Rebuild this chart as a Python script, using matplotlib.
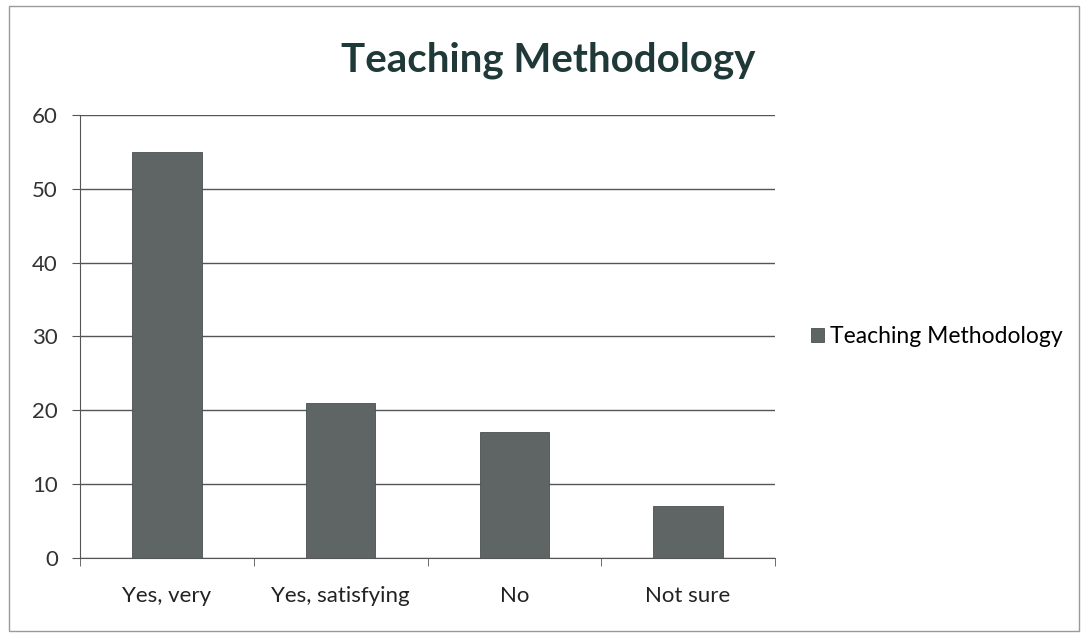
import matplotlib
matplotlib.use("Agg")
import matplotlib.pyplot as plt
from matplotlib.patches import Rectangle

categories = ["Yes, very", "Yes, satisfying", "No", "Not sure"]
values = [55, 21, 17, 7]
series_name = "Teaching Methodology"
yticks = [0, 10, 20, 30, 40, 50, 60]

plt.rcParams['font.family'] = ['Lato', 'DejaVu Sans']

fig = plt.figure(figsize=(10.83, 6.35), dpi=100)
fig.patches.append(Rectangle((0.008, 0.006), 0.988, 0.985, transform=fig.transFigure,
                             fill=False, edgecolor='#9a9a9a', linewidth=1.0))
ax = fig.add_axes([0.0739, 0.1213, 0.6417, 0.6976])

x = list(range(len(categories)))
ax.bar(x, values, width=0.4, color='#5f6464', edgecolor='#4a4f4f', linewidth=0.6,
       label=series_name, zorder=3)
ax.set_xlim(-0.5, len(categories) - 0.5)
ax.set_ylim(0, 60)
ax.set_yticks(yticks)
ax.set_yticklabels([str(v) for v in yticks], fontsize=16, color='#333333')
ax.yaxis.grid(True, color='#555555', linewidth=1.0, zorder=0)
ax.set_axisbelow(True)

ax.set_xticks(x)
ax.set_xticklabels(categories, fontsize=16, color='#222222')
ax.tick_params(axis='x', length=0, pad=20)
ax.set_xticks([i + 0.5 for i in range(-1, len(categories))], minor=True)
ax.tick_params(axis='x', which='minor', length=6, color='#555555', direction='out')
ax.tick_params(axis='y', length=6, color='#555555', pad=10)

for s in ['top', 'right']:
    ax.spines[s].set_visible(False)
ax.spines['left'].set_color('#555555')
ax.spines['bottom'].set_color('#555555')

fig.text(0.506, 0.905, "Teaching Methodology", fontsize=29, fontweight='bold',
         color='#1f3838', ha='center', va='center')

ax.legend(loc='center left', bbox_to_anchor=(1.022, 0.5), frameon=False, fontsize=16.5,
          handlelength=0.55, handleheight=0.55, handletextpad=0.3)

fig.savefig("out.png", dpi=100)
